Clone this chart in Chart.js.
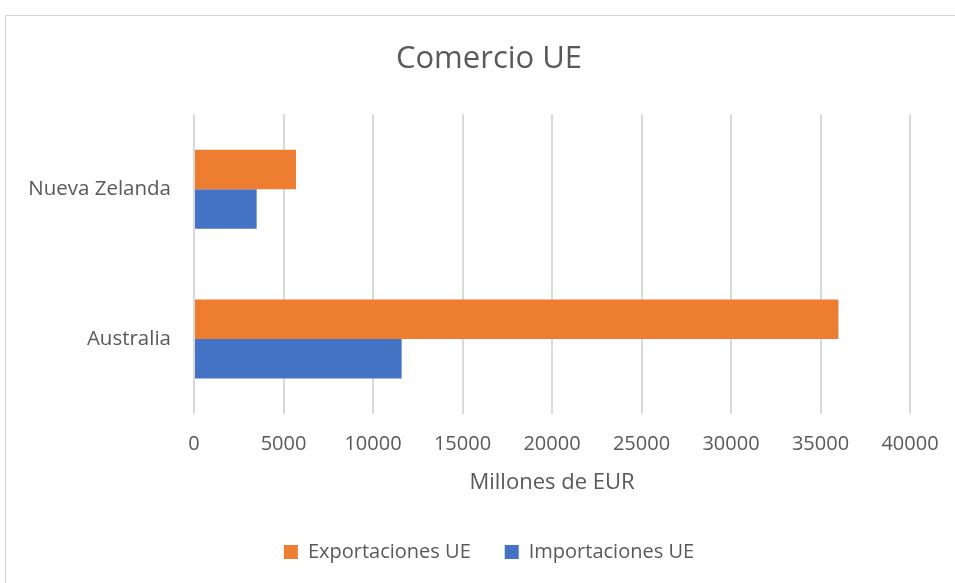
<!DOCTYPE html>
<html lang="es">
<head>
<meta charset="utf-8">
<title>Comercio UE</title>
<script src="https://cdn.jsdelivr.net/npm/chart.js@4/dist/chart.umd.min.js"></script>
<style>
  html, body { margin: 0; padding: 0; background: #ffffff; overflow: hidden; }
  body { width: 955px; height: 583px; position: relative; }
  #frame {
    position: absolute; left: 5px; top: 15px;
    width: 966px; height: 598px;
    border: 1px solid #d4d4d4;
    background: #ffffff;
  }
  #chart { display: block; }
</style>
</head>
<body>
<div id="frame"><canvas id="chart" width="966" height="598"></canvas></div>
<script>
// Trade between the EU and its partners, in millions of euros
const categories = ['Nueva Zelanda', 'Australia'];
const exportaciones = [5700, 36000];
const importaciones = [3500, 11600];
const xTicks = [0, 5000, 10000, 15000, 20000, 25000, 30000, 35000, 40000];

const textColor = '#595959';
const family = "'Open Sans', 'Noto Sans', sans-serif";

new Chart(document.getElementById('chart'), {
  type: 'bar',
  data: {
    labels: categories,
    datasets: [
      { label: 'Exportaciones UE', data: exportaciones, backgroundColor: '#ED7D31' },
      { label: 'Importaciones UE', data: importaciones, backgroundColor: '#4472C4' }
    ]
  },
  options: {
    indexAxis: 'y',
    responsive: false,
    animation: false,
    events: [],
    datasets: { bar: { categoryPercentage: 0.527, barPercentage: 1 } },
    layout: { padding: { left: 0, right: 0, top: 0, bottom: 42 } },
    plugins: {
      title: {
        display: true,
        text: 'Comercio UE',
        color: textColor,
        font: { family, size: 31, weight: 'normal' },
        padding: { top: 25, bottom: 36 }
      },
      legend: {
        position: 'bottom',
        labels: {
          color: textColor,
          font: { family, size: 20 },
          boxWidth: 14,
          boxHeight: 14,
          padding: 34
        }
      },
      tooltip: { enabled: false }
    },
    scales: {
      x: {
        min: 0,
        max: 40000,
        afterBuildTicks: (scale) => { scale.ticks = xTicks.map(v => ({ value: v })); },
        afterFit: (scale) => { scale.height = 94; scale.paddingRight = 62; },
        grid: { color: '#d9d9d9', lineWidth: 2, drawTicks: false },
        border: { display: false },
        ticks: {
          color: textColor,
          font: { family, size: 20 },
          padding: 18,
          maxRotation: 0,
          autoSkip: false,
          callback: (value) => String(value)
        },
        title: {
          display: true,
          text: 'Millones de EUR',
          color: textColor,
          font: { family, size: 22 },
          padding: { top: 4, bottom: 12 }
        }
      },
      y: {
        afterFit: (scale) => { scale.width = 188; },
        grid: { display: false, drawTicks: false },
        border: { display: false },
        ticks: { color: textColor, font: { family, size: 20.5 }, padding: 23 }
      }
    }
  }
});
</script>
</body>
</html>
